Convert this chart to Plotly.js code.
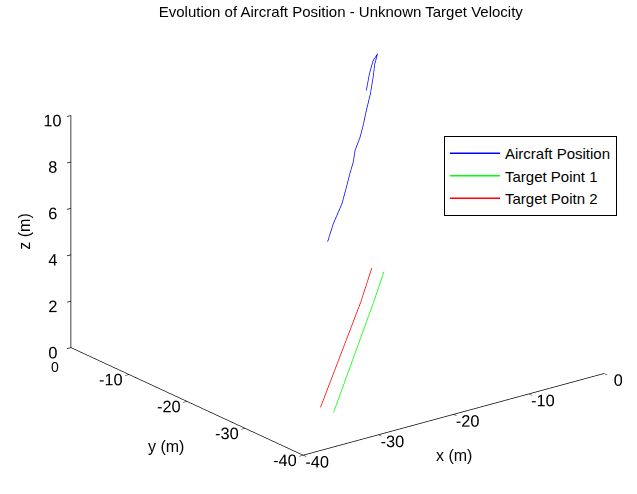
<!DOCTYPE html>
<html>
<head>
<meta charset="utf-8">
<script src="https://cdn.plot.ly/plotly-3.0.1.min.js"></script>
<style>html,body{margin:0;padding:0;background:#fff;}#chart{width:637px;height:494px;}</style>
</head>
<body>
<div id="chart"></div>
<script>
// Aircraft position (m)
const aircraftX = [-29.8, -26.4, -21.4, -18.5, -16.5, -14.5, -13.5, -10.6, -8.6, -6.6, -4.6, -3.0, -1.7, -0.1, -2.7, -5.2, -6.6];
const aircraftY = [-31.0, -27.6, -22.6, -19.6, -17.6, -15.6, -14.6, -11.7, -9.7, -7.6, -5.7, -4.1, -2.7, -1.1, -3.7, -6.3, -7.6];
const aircraftZ = [7.26, 7.36, 7.19, 7.30, 7.47, 7.57, 7.86, 7.83, 7.99, 8.16, 8.47, 8.86, 9.16, 9.27, 9.50, 9.45, 9.02];
// Target point 1 (m)
const target1X = [-29.7, -22.2, -14.8, -7.3, 0.0];
const target1Y = [-31.9, -24.4, -17.0, -9.5, -2.1];
const target1Z = [0, 0, 0, 0, 0];
// Target point 2 (m)
const target2X = [-29.9, -22.5, -15.0, -7.5, -0.4];
const target2Y = [-29.9, -22.6, -15.2, -7.8, -0.5];
const target2Z = [0, 0, 0, 0, 0];
// Axis ticks
const xTicks = [-40, -30, -20, -10, 0];
const yTicks = [-40, -30, -20, -10, 0];
const zTicks = [0, 2, 4, 6, 8, 10];
const seriesNames = ['Aircraft Position', 'Target Point 1', 'Target Poitn 2'];
const axisTitles = ['x (m)', 'y (m)', 'z (m)'];

const FAM = 'Liberation Sans, Arial, sans-serif';
const tickFont = {family: FAM, size: 14, color: '#000'};
const labelFont = {family: FAM, size: 16, color: '#000'};

const traces = [
  {type: 'scatter3d', mode: 'lines', name: seriesNames[0], x: aircraftX, y: aircraftY, z: aircraftZ,
   line: {color: '#0000ff', width: 1.5}},
  {type: 'scatter3d', mode: 'lines', name: seriesNames[1], x: target1X, y: target1Y, z: target1Z,
   line: {color: '#00ff00', width: 1.5}},
  {type: 'scatter3d', mode: 'lines', name: seriesNames[2], x: target2X, y: target2Y, z: target2Z,
   line: {color: '#ff0000', width: 1.5}}
];

function axis(range, ticks) {
  return {
    title: {text: ''},
    range: range, autorange: false,
    tickmode: 'array', tickvals: ticks, ticktext: ticks.map(String),
    tickfont: tickFont, tickangle: 0,
    showline: true, linecolor: '#000', linewidth: 1.5,
    showgrid: false, zeroline: false, showbackground: false,
    ticks: 'outside', ticklen: 5, tickwidth: 1.5, tickcolor: '#000',
    showspikes: false, mirror: false
  };
}

const p = 0.6078, q = 0.7941, s = 0.3548, c = 0.9349;
const dist = 2.0;
const k = 1.55;

const layout = {
  width: 637, height: 494,
  paper_bgcolor: '#fff',
  margin: {l: 0, r: 0, t: 0, b: 0},
  title: {text: 'Evolution of Aircraft Position - Unknown Target Velocity',
          font: {family: FAM, size: 15, color: '#000'}, x: 0.535, xanchor: 'center', y: 0.976, yanchor: 'middle'},
  showlegend: true,
  legend: {x: 0.697, y: 0.7247, xanchor: 'left', yanchor: 'top', bgcolor: '#fff', bordercolor: '#000', borderwidth: 1,
           itemwidth: 50, font: {family: FAM, size: 15, color: '#000'}},
  scene: {
    domain: {x: [0.06, 1.0], y: [0.01, 1.0]},
    xaxis: axis([-40, 0], xTicks),
    yaxis: axis([-40, 0], yTicks),
    zaxis: axis([0, 10], zTicks),
    aspectmode: 'manual',
    aspectratio: {x: 1 * k, y: 1.008 * k, z: 0.655 * k},
    camera: {
      projection: {type: 'orthographic'},
      up: {x: 0, y: 0, z: 1},
      center: {x: 0, y: 0, z: 0},
      eye: {x: -p * c * dist, y: -q * c * dist, z: s * dist}
    },
    annotations: [
      {x: -20, y: -40, z: 0, text: axisTitles[0], showarrow: false, font: labelFont, yshift: -41},
      {x: -40, y: -20, z: 0, text: axisTitles[1], showarrow: false, font: labelFont, xshift: -21, yshift: -45},
      {x: -40, y: 0, z: 5, text: axisTitles[2], showarrow: false, font: labelFont, xshift: -47, textangle: -90},
      // y-axis "0" tick label, stacked under the z-axis "0" as in the reference
      {x: -40, y: yTicks[4], z: 0, text: String(yTicks[4]), showarrow: false, font: tickFont, xshift: -16, yshift: -19}
    ]
  }
};

Plotly.newPlot('chart', traces, layout, {displayModeBar: false});
</script>
</body>
</html>
